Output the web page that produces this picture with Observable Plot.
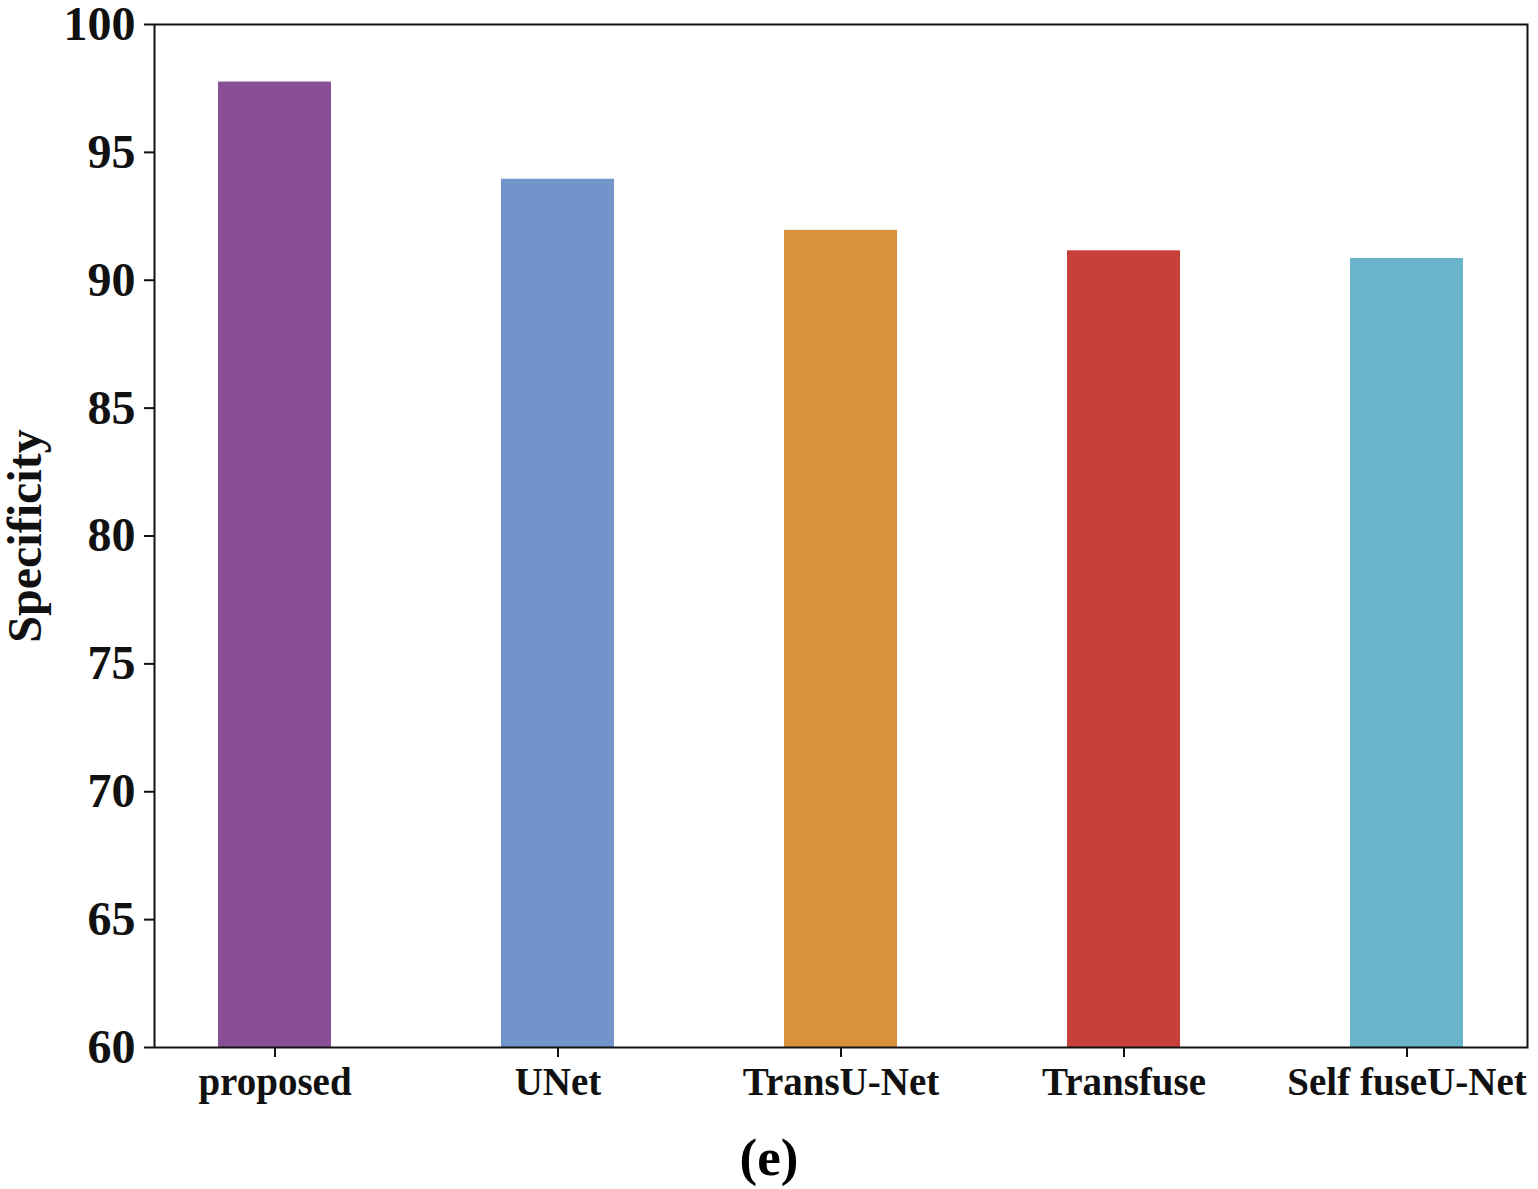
<!DOCTYPE html>
<html>
<head>
<meta charset="utf-8">
<script src="https://cdn.jsdelivr.net/npm/d3@7"></script>
<script src="https://cdn.jsdelivr.net/npm/@observablehq/plot@0.6"></script>
<style>
  body { margin: 0; background: #fff; }
  #chart svg { display: block; }
  #caption { width: 1538px; text-align: center; font-family: "Liberation Serif", "Times New Roman", serif; font-weight: bold; font-size: 53px; line-height: 60px; margin-top: 2px; }
</style>
</head>
<body>
<div id="chart"></div>
<div id="caption">(e)</div>
<script>
const methods = ["proposed", "UNet", "TransU-Net", "Transfuse", "Self fuseU-Net"];
const specificity = [97.75, 93.95, 91.95, 91.15, 90.85];
const colors = ["#884F96", "#7195CB", "#D9913C", "#C9403A", "#6AB4CB"];
const yTicks = [60, 65, 70, 75, 80, 85, 90, 95, 100];

const data = methods.map((m, i) => ({method: m, value: specificity[i]}));

const chart = Plot.plot({
  width: 1538,
  height: 1125,
  marginLeft: 154,
  marginRight: 11,
  marginTop: 24,
  marginBottom: 78,
  style: {fontFamily: "'Liberation Serif', 'Times New Roman', serif", fontWeight: "bold", color: "#111", background: "#fff", overflow: "visible"},
  x: {domain: methods, paddingInner: 0.6, paddingOuter: 0.2215, label: null},
  y: {domain: [60, 100], label: null},
  color: {domain: methods, range: colors},
  marks: [
    Plot.barY(data, {x: "method", y1: 60, y2: "value", fill: "method"}),
    Plot.axisY({ticks: yTicks, tickSize: 10, tickPadding: 9, fontSize: 48, fontWeight: "bold", stroke: "#111", strokeWidth: 2,
      label: "Specificity", labelArrow: "none", labelAnchor: "center", labelOffset: 148}),
    Plot.axisX({tickSize: 10, tickPadding: 10, fontSize: 39, fontWeight: "bold", stroke: "#111", strokeWidth: 2, label: null}),
    Plot.frame({stroke: "#111", strokeWidth: 2})
  ]
});
chart.querySelectorAll("text").forEach(t => {
  if (/Specificity/.test(t.textContent)) {
    t.textContent = "Specificity";
    t.setAttribute("font-size", "48");
  }
});
document.getElementById("chart").appendChild(chart);
</script>
</body>
</html>
